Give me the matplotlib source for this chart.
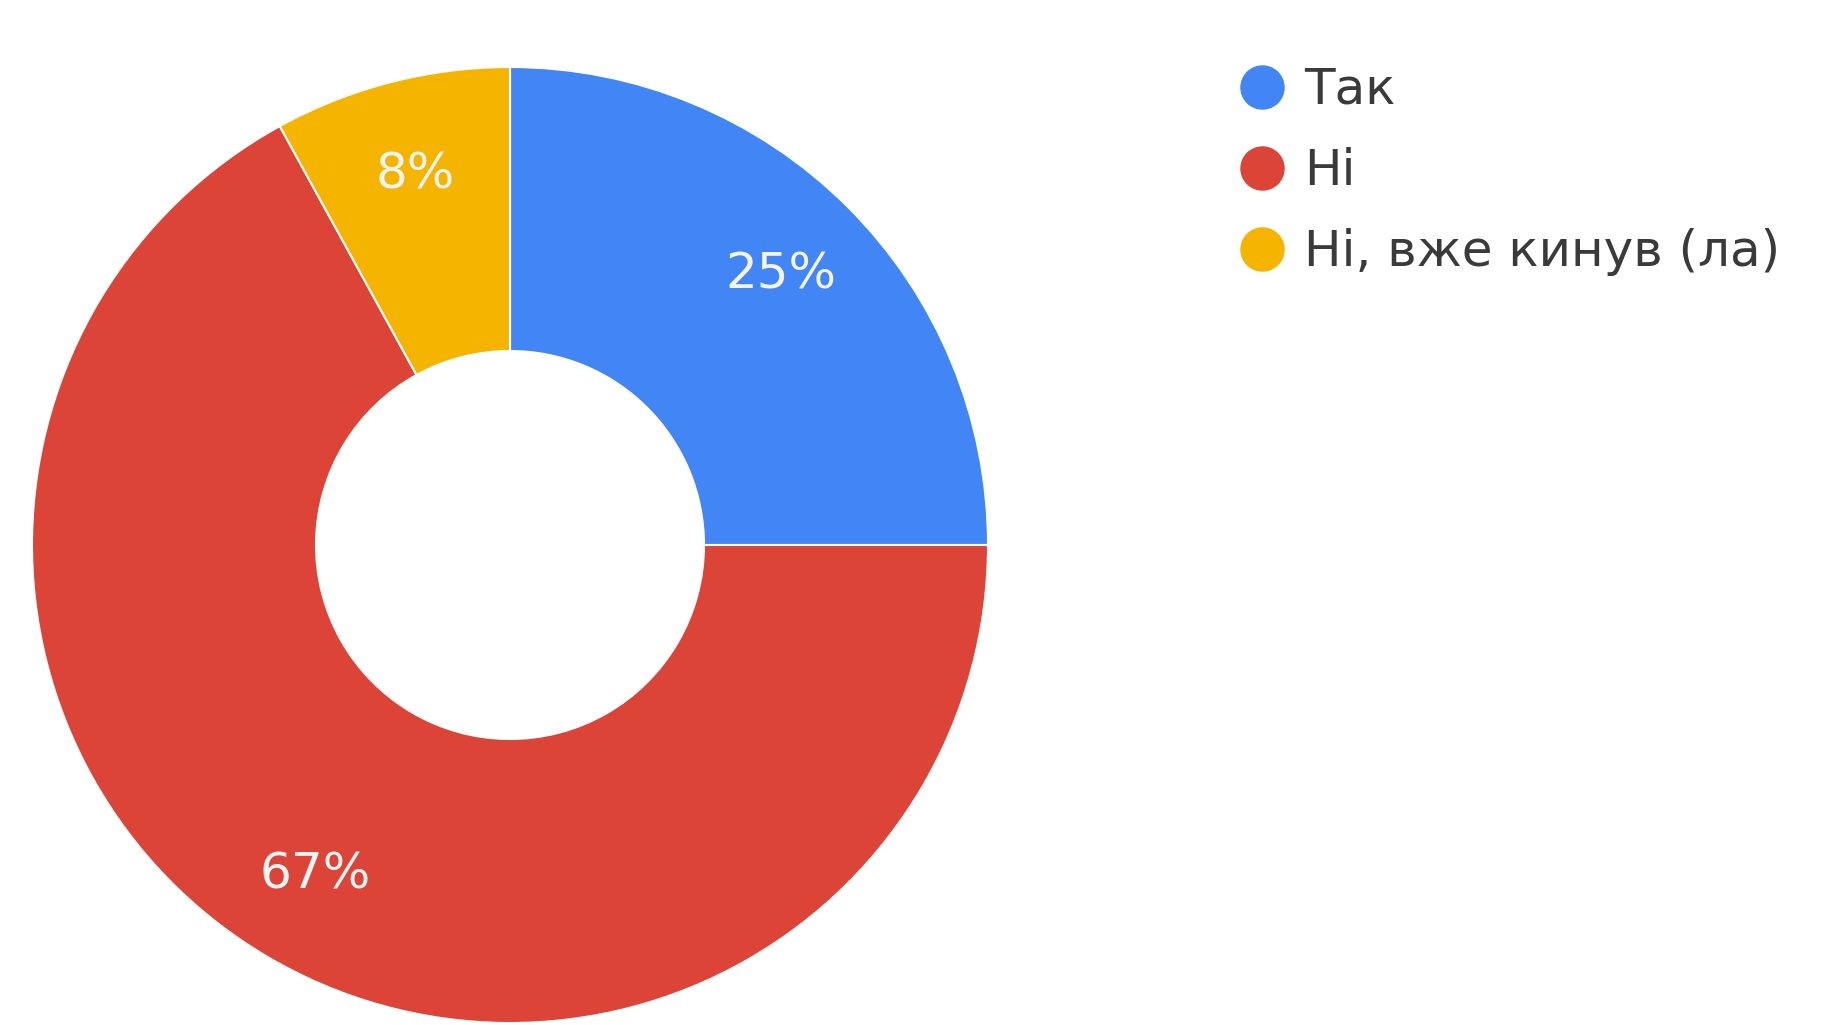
import matplotlib
matplotlib.use("Agg")
import matplotlib.pyplot as plt
from matplotlib.lines import Line2D

categories = ["Так", "Ні", "Ні, вже кинув (ла)"]
values = [25, 67, 8]
colors = ["#4285F4", "#DB4437", "#F4B400"]

plt.rcParams['font.family'] = ['DejaVu Sans']

W, H = 1833, 1025
fig = plt.figure(figsize=(W / 100, H / 100), dpi=100)
fig.patch.set_facecolor("white")

cx, cy, R = 510, 1025 - 545, 478
ax = fig.add_axes([(cx - R) / W, (cy - R) / H, 2 * R / W, 2 * R / H])

wedges, texts, autotexts = ax.pie(
    values, colors=colors, startangle=90, counterclock=False,
    autopct=lambda p: f"{p:.0f}%", pctdistance=0.80, radius=1.0,
    wedgeprops=dict(width=1 - 194 / 478, edgecolor="white", linewidth=1.5),
    textprops=dict(color="#F4F4F4", fontsize=36),
)
ax.set_xlim(-1, 1)
ax.set_ylim(-1, 1)
ax.set_aspect("equal")
ax.axis("off")

handles = [Line2D([0], [0], marker="o", color="none", markerfacecolor=c,
                  markeredgecolor=c, markersize=31) for c in colors]
fig.legend(handles, categories, loc="upper left",
           bbox_to_anchor=(1222 / W, 1 - 46 / H), frameon=False,
           fontsize=36, handlelength=0.8, handletextpad=0.45,
           labelspacing=0.66, borderaxespad=0, labelcolor="#3a3a3a")

fig.savefig("out.png", dpi=100, facecolor="white")
